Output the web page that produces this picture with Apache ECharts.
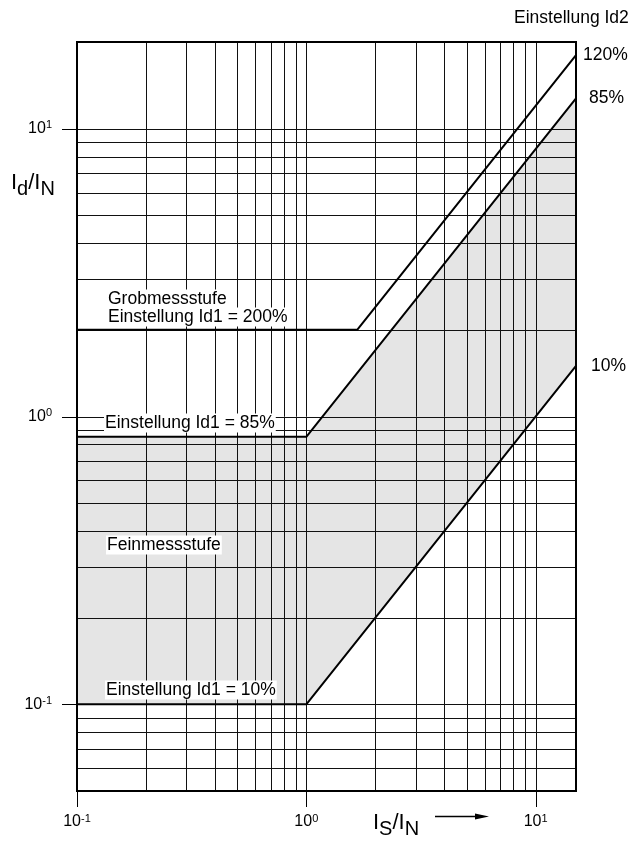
<!DOCTYPE html>
<html><head><meta charset="utf-8">
<script src="https://cdn.jsdelivr.net/npm/echarts@6/dist/echarts.min.js"></script>
<style>html,body{margin:0;padding:0;background:#fff}#c{width:633px;height:843px}</style>
</head><body><div id="c"></div>
<script>
// Axis ranges (log scales)
const X_MIN = 0.1, X_MAX = 15, Y_MIN = 0.05, Y_MAX = 20;
// Grid lines
const xGrid = [0.2,0.3,0.4,0.5,0.6,0.7,0.8,0.9,1,2,3,4,5,6,7,8,9,10];
const yGrid = [0.06,0.07,0.08,0.09,0.1,0.2,0.3,0.4,0.5,0.6,0.7,0.8,0.9,1,2,3,4,5,6,7,8,9,10];
// Major ticks and their exponent labels
const xTicks = [0.1, 1, 10];
const xTickExp = ['-1', '0', '1'];
const yTicks = [0.1, 1, 10];
const yTickExp = ['-1', '0', '1'];
// Characteristic curves [Is/In, Id/In]
const line120 = [[0.1, 2], [1.6667, 2], [15, 18]];
const line85 = [[0.1, 0.85], [1, 0.85], [15, 12.75]];
const line10 = [[0.1, 0.1], [1, 0.1], [15, 1.5]];
const curveNames = ['120%', '85%', '10%'];

const FONT = '"Liberation Sans", Arial, sans-serif';
const chart = echarts.init(document.getElementById('c'));

function renderFill(params, api) {
  const pts = line85.map(p => api.coord(p)).concat(line10.slice().reverse().map(p => api.coord(p)));
  return {type: 'polygon', shape: {points: pts}, style: {fill: '#e5e5e5', stroke: 'none'}};
}
function renderGrid(params, api) {
  const ch = [];
  const st = {stroke: '#111', lineWidth: 1};
  xGrid.forEach(v => {
    const a = api.coord([v, Y_MIN]), b = api.coord([v, Y_MAX]);
    const x = Math.round(a[0]) + 0.5;
    ch.push({type: 'line', shape: {x1: x, y1: a[1], x2: x, y2: b[1]}, style: st});
  });
  yGrid.forEach(v => {
    const a = api.coord([X_MIN, v]), b = api.coord([X_MAX, v]);
    const y = Math.round(a[1]) + 0.5;
    ch.push({type: 'line', shape: {x1: a[0], y1: y, x2: b[0], y2: y}, style: st});
  });
  return {type: 'group', children: ch};
}
function supText(exp) { return '{m|10}{s|' + exp + '}'; }
const supRich = {
  m: {fontSize: 16, fontFamily: FONT, fill: '#000'},
  s: {fontSize: 11, fontFamily: FONT, fill: '#000', padding: [0, 0, 7, 0]}
};
function renderFrame(params, api) {
  const ch = [];
  const p0 = api.coord([X_MIN, Y_MAX]), p1 = api.coord([X_MAX, Y_MIN]);
  ch.push({type: 'rect', shape: {x: p0[0], y: p0[1], width: p1[0] - p0[0], height: p1[1] - p0[1]},
    style: {fill: 'none', stroke: '#000', lineWidth: 2}});
  yTicks.forEach((v, i) => {
    const p = api.coord([X_MIN, v]);
    const y = Math.round(p[1]) + 0.5;
    ch.push({type: 'line', shape: {x1: p[0] - 15, y1: y, x2: p[0], y2: y}, style: {stroke: '#000', lineWidth: 1}});
    ch.push({type: 'text', x: p[0] - 25, y: p[1], style: {text: supText(yTickExp[i]), rich: supRich,
      fontSize: 16, fontFamily: FONT, fill: '#000', align: 'right', verticalAlign: 'middle'}});
  });
  xTicks.forEach((v, i) => {
    const p = api.coord([v, Y_MIN]);
    const x = Math.round(p[0]) + 0.5;
    ch.push({type: 'line', shape: {x1: x, y1: p[1], x2: x, y2: p[1] + 16}, style: {stroke: '#000', lineWidth: 1}});
    ch.push({type: 'text', x: p[0], y: p[1] + 31, style: {text: supText(xTickExp[i]), rich: supRich,
      fontSize: 16, fontFamily: FONT, fill: '#000', align: 'center', verticalAlign: 'middle'}});
  });
  return {type: 'group', children: ch};
}

function curve(name, data) {
  return {name: name, type: 'line', data: data, symbol: 'none', z: 3, silent: true,
    lineStyle: {color: '#000', width: 2}, animation: false};
}

function txt(x, y, text, withBg) {
  const style = {text: text, fontSize: 17.5, fontFamily: FONT, fill: '#000',
    align: 'left', verticalAlign: 'middle'};
  if (withBg) { style.backgroundColor = '#fff'; style.padding = [1, 1, 0, 1]; }
  return {type: 'text', x: x, y: y, z: 100, silent: true, style: style};
}
const titleRich = {
  b: {fontSize: 22, fontFamily: FONT, fill: '#000'},
  s: {fontSize: 20, fontFamily: FONT, fill: '#000', padding: [12, 0, 0, 0]}
};

const option = {
  animation: false,
  grid: {left: 77, right: 57, top: 42, bottom: 52},
  xAxis: {type: 'log', logBase: 10, min: X_MIN, max: X_MAX,
    axisLine: {show: false}, axisTick: {show: false}, axisLabel: {show: false}, splitLine: {show: false}},
  yAxis: {type: 'log', logBase: 10, min: Y_MIN, max: Y_MAX,
    axisLine: {show: false}, axisTick: {show: false}, axisLabel: {show: false}, splitLine: {show: false}},
  series: [
    {type: 'custom', z: 1, silent: true, clip: false, data: [[X_MIN, Y_MIN]], renderItem: renderFill},
    {type: 'custom', z: 2, silent: true, clip: false, data: [[X_MIN, Y_MIN]], renderItem: renderGrid},
    curve(curveNames[0], line120),
    curve(curveNames[1], line85),
    curve(curveNames[2], line10),
    {type: 'custom', z: 4, silent: true, clip: false, data: [[X_MIN, Y_MIN]], renderItem: renderFrame}
  ],
  graphic: [
    txt(514, 18, 'Einstellung Id2'),
    txt(583, 55, '120%'),
    txt(589, 98, '85%'),
    txt(591, 366, '10%'),
    txt(107, 299, 'Grobmessstufe', true),
    txt(107, 317, 'Einstellung Id1 = 200%', true),
    txt(104, 423, 'Einstellung Id1 = 85%', true),
    txt(106, 545, 'Feinmessstufe', true),
    txt(105, 690, 'Einstellung Id1 = 10%', true),
    {type: 'text', x: 11, y: 183, z: 100, silent: true, style: {
      text: '{b|I}{s|d}{b|/I}{s|N}', align: 'left', verticalAlign: 'middle', rich: titleRich}},
    {type: 'text', x: 373, y: 823, z: 100, silent: true, style: {
      text: '{b|I}{s|S}{b|/I}{s|N}', align: 'left', verticalAlign: 'middle', rich: titleRich}},
    {type: 'line', z: 100, silent: true, shape: {x1: 435, y1: 816.5, x2: 478, y2: 816.5}, style: {stroke: '#000', lineWidth: 1.5}},
    {type: 'polygon', z: 100, silent: true, shape: {points: [[475, 813.5], [489, 816.5], [475, 819.5]]}, style: {fill: '#000'}}
  ]
};
chart.setOption(option);
</script>
</body></html>
